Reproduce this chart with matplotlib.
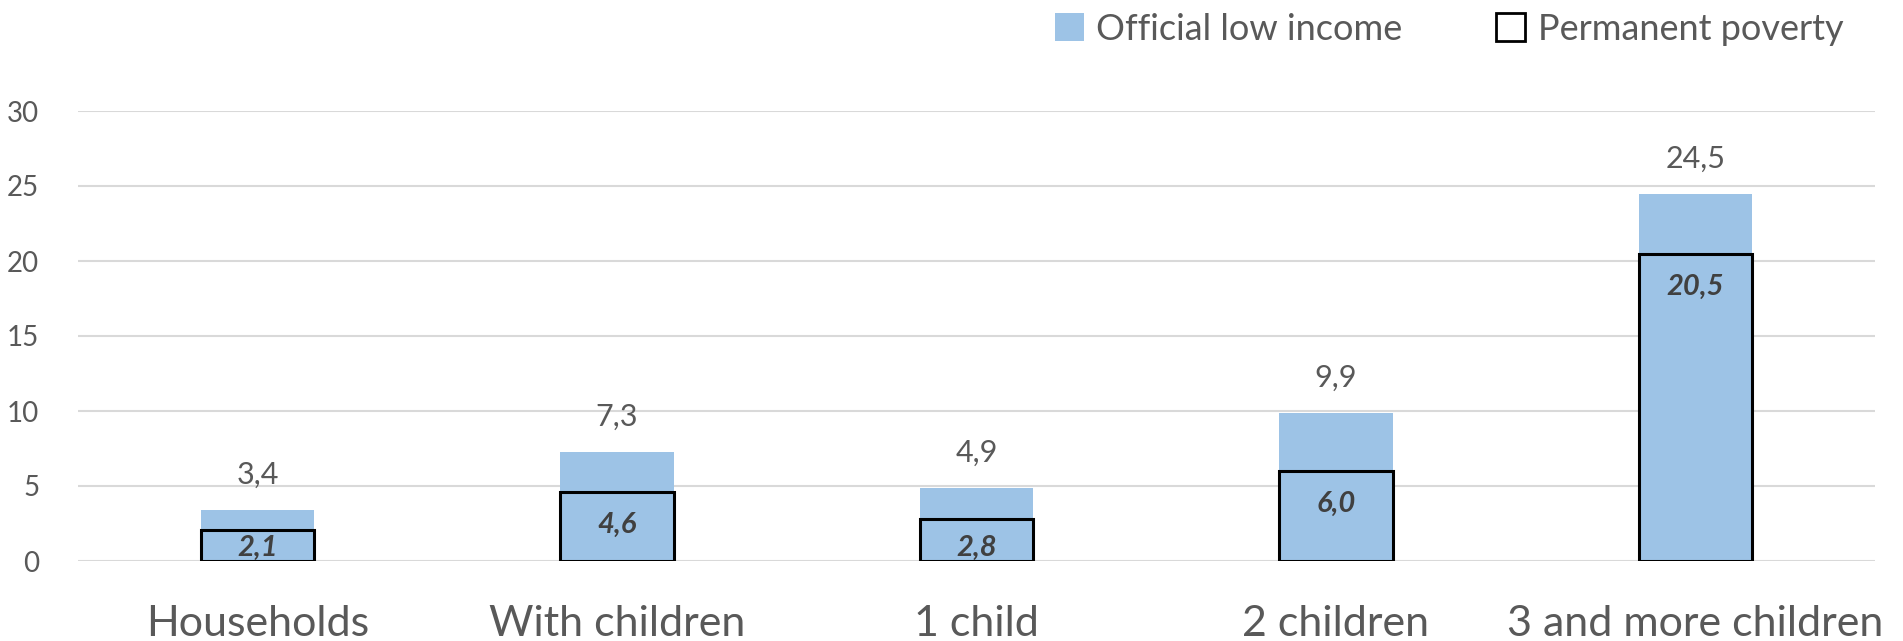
import matplotlib
matplotlib.use("Agg")
import matplotlib.pyplot as plt
import numpy as np
from matplotlib.patches import Patch

plt.rcParams['font.family'] = ['Lato', 'DejaVu Sans']

categories = ["Households", "With children", "1 child", "2 children", "3 and more children"]
official_low_income = [3.4, 7.3, 4.9, 9.9, 24.5]
permanent_poverty = [2.1, 4.6, 2.8, 6.0, 20.5]
yticks = [0, 5, 10, 15, 20, 25, 30]

blue = "#9dc3e6"
grey_txt = "#595959"


def fmt(v):
    return f"{v:.1f}".replace(".", ",")


fig = plt.figure(figsize=(19.03, 6.41), dpi=100)
ax = fig.add_axes([78/1903, 80/641, (1875-78)/1903, 450/641])
px_per_unit = 450 / 30

x = np.arange(len(categories))
w = 0.315
ax.bar(x, official_low_income, width=w, color=blue, zorder=2)
ax.bar(x, permanent_poverty, width=w, facecolor="none", edgecolor="black", linewidth=2.2, zorder=3)

for xi, v in zip(x, official_low_income):
    ax.annotate(fmt(v), (xi, v), xytext=(0, 35), textcoords="offset pixels",
                ha="center", va="center", fontsize=22, color=grey_txt)
for xi, v in zip(x, permanent_poverty):
    # inside end, but kept inside short bars
    off = min(33, v * px_per_unit - 13)
    ax.annotate(fmt(v), (xi, v), xytext=(0, -off), textcoords="offset pixels",
                ha="center", va="center", fontsize=21, color="#404040",
                fontweight="bold", fontstyle="italic")

ax.set_xlim(-0.5, len(categories) - 0.5)
ax.set_ylim(0, 30)
ax.set_yticks(yticks)
ax.set_xticks(x)
ax.set_xticklabels(categories, fontsize=31, color=grey_txt)
ax.tick_params(axis="x", length=0, pad=32)
ax.tick_params(axis="y", length=0, pad=28, labelsize=20, labelcolor=grey_txt)
ax.grid(axis="y", color="#d9d9d9", linewidth=1.5, zorder=0)
ax.set_axisbelow(True)
for s in ax.spines.values():
    s.set_visible(False)

handles = [Patch(facecolor=blue, edgecolor="none"),
           Patch(facecolor="white", edgecolor="black", linewidth=2)]
fig.legend(handles, ["Official low income", "Permanent poverty"], loc="upper right",
           bbox_to_anchor=(1858/1903, 1.003), ncol=2, frameon=False, fontsize=26,
           labelcolor=grey_txt, handlelength=0.8, handleheight=0.8, handletextpad=0.35,
           columnspacing=2.6, borderaxespad=0.0)

fig.savefig("out.png", dpi=100)
